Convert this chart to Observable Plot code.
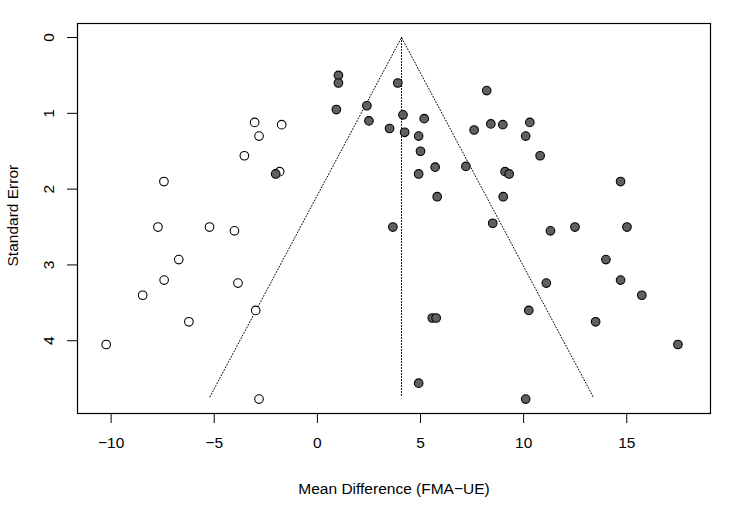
<!DOCTYPE html>
<html>
<head>
<meta charset="utf-8">
<script src="https://cdn.jsdelivr.net/npm/d3@7"></script>
<script src="https://cdn.jsdelivr.net/npm/@observablehq/plot@0.6"></script>
<style>
  html, body { margin: 0; padding: 0; background: #fff; }
  #chart { width: 750px; height: 509px; }
</style>
</head>
<body>
<div id="chart"></div>
<script>
// Observed studies: mean difference and its standard error
const studyMD = [1.02, 1.02, 0.92, 2.40, 2.50, -2.02,
  3.90, 8.21, 4.15, 5.18, 3.50, 4.23, 4.91, 7.60, 8.41, 8.99, 10.30, 10.10,
  5.00, 10.80, 5.71, 7.20, 4.91, 9.10, 9.30, 14.70, 5.81, 9.01, 3.66, 8.50,
  11.30, 12.49, 15.01,
  13.99, 11.10, 14.70, 15.73, 10.25, 13.49, 5.57, 5.76, 17.48, 4.91, 10.10];
const studySE = [0.50, 0.60, 0.95, 0.90, 1.10, 1.80,
  0.60, 0.70, 1.02, 1.07, 1.20, 1.25, 1.30, 1.22, 1.14, 1.15, 1.12, 1.30,
  1.50, 1.56, 1.71, 1.70, 1.80, 1.77, 1.80, 1.90, 2.10, 2.10, 2.50, 2.45,
  2.55, 2.50, 2.50,
  2.93, 3.24, 3.20, 3.40, 3.60, 3.75, 3.70, 3.70, 4.05, 4.56, 4.77];

// Studies imputed by trim-and-fill
const filledMD = [-3.04, -2.83, -1.73, -3.54, -1.83, -7.44, -7.73, -5.23, -4.02,
  -6.72, -7.43, -8.47, -3.85, -2.99, -6.23, -10.24, -2.83];
const filledSE = [1.12, 1.30, 1.15, 1.56, 1.77, 1.90, 2.50, 2.50, 2.55,
  2.93, 3.20, 3.40, 3.24, 3.60, 3.75, 4.05, 4.77];

// Pooled estimate and the funnel's lower standard error
const pooled = 4.08;
const funnelSE = 4.74;

const xTicks = [-10, -5, 0, 5, 10, 15];
const yTicks = [0, 1, 2, 3, 4];

const observed = studyMD.map((md, i) => ({md, se: studySE[i]}));
const imputed = filledMD.map((md, i) => ({md, se: filledSE[i]}));

// 95% pseudo-confidence region around the pooled estimate
const funnel = [
  {md: pooled - 1.96 * funnelSE, se: funnelSE},
  {md: pooled, se: 0},
  {md: pooled + 1.96 * funnelSE, se: funnelSE}
];
const centre = [{md: pooled, se: 0}, {md: pooled, se: funnelSE}];

const font = "'Liberation Sans', Arial, Helvetica, sans-serif";
const fs = 15.5;

const chart = Plot.plot({
  width: 750,
  height: 509,
  marginLeft: 77,
  marginTop: 23,
  marginRight: 40,
  marginBottom: 96,
  style: {background: "#fff", fontFamily: font, fontSize: fs + "px", color: "#000"},
  x: {domain: [-11.63, 19.06]},
  y: {domain: [-0.185, 4.96], reverse: true},
  marks: [
    Plot.line(funnel, {x: "md", y: "se", stroke: "#000", strokeWidth: 1, strokeDasharray: "1,2"}),
    Plot.line(centre, {x: "md", y: "se", stroke: "#000", strokeWidth: 1, strokeDasharray: "1,2"}),
    Plot.dot(imputed, {x: "md", y: "se", r: 4.3, fill: "#fff", stroke: "#000", strokeWidth: 1.1}),
    Plot.dot(observed, {x: "md", y: "se", r: 4.3, fill: "#606060", stroke: "#000", strokeWidth: 1.1}),
    Plot.frame({stroke: "#000", strokeWidth: 1.2}),
    Plot.axisX({ticks: xTicks, tickSize: 10, tickPadding: 13, fontSize: fs, label: null, stroke: "#000"}),
    Plot.axisY({ticks: yTicks, tickSize: 10, tickFormat: () => "", label: null, stroke: "#000"}),
    Plot.text(yTicks, {
      y: d => d, frameAnchor: "left", dx: -28.5, rotate: -90,
      text: d => String(d), textAnchor: "middle", lineAnchor: "middle",
      fontSize: fs, fill: "#000"
    }),
    Plot.text(["Standard Error"], {
      y: [2.35], frameAnchor: "left", dx: -64, rotate: -90, textAnchor: "middle",
      lineAnchor: "middle", fontSize: fs, fill: "#000"
    }),
    Plot.text(["Mean Difference (FMA\u2212UE)"], {
      frameAnchor: "bottom", dy: 76, textAnchor: "middle",
      lineAnchor: "middle", fontSize: fs, fill: "#000"
    })
  ]
});

document.getElementById("chart").appendChild(chart);
</script>
</body>
</html>
